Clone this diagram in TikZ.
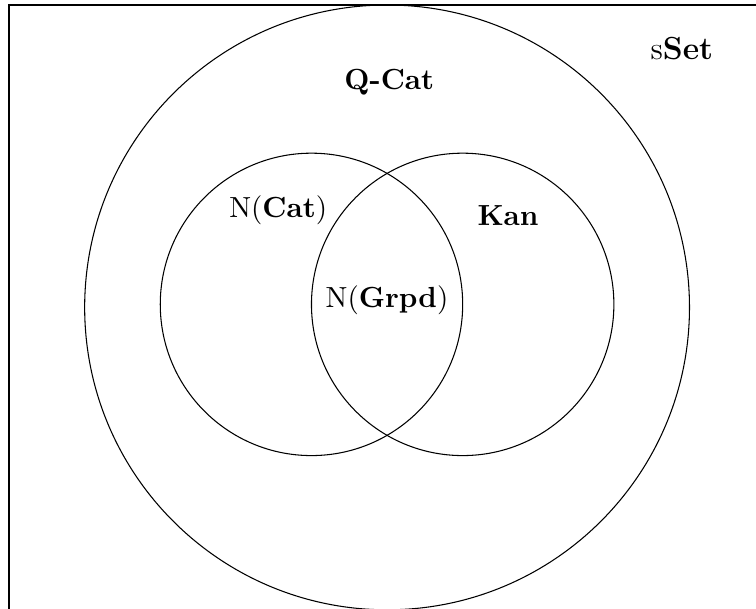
\documentclass[tikz,border=0pt]{standalone}
\begin{document}
\begin{tikzpicture}
\tikzset{
  ring/.style={draw, circle, line width=0.4pt, inner sep=0pt, outer sep=0pt},
  lbl/.style={inner sep=0pt, font=\fontsize{10.95}{13.6}\selectfont}
}
\useasboundingbox (-5.12,-3.98) rectangle (4.88,4.066);
\draw[line width=0.8pt] (-5,-4.2) -- (-5,4) -- (5.2,4);
\node[ring, minimum size=8cm] (sset) at (0,0) {};
\node[ring, minimum size=4cm] (cat) at (-1,0.04) {};
\node[ring, minimum size=4cm] (kan) at (1,0.04) {};
\node[lbl, font=\fontsize{12}{14.5}\selectfont] (sSetlbl) at (3.9,3.43) {s\textbf{Set}};
\node[lbl] (qcat) at (0.03,2.98) {\textbf{Q-Cat}};
\node[lbl] (ncat) at (-1.44,1.29) {N(\textbf{Cat})};
\node[lbl] (kanlbl) at (1.6,1.22) {\textbf{Kan}};
\node[lbl] (ngrpd) at (0,0.1) {N(\textbf{Grpd})};
\end{tikzpicture}
\end{document}
